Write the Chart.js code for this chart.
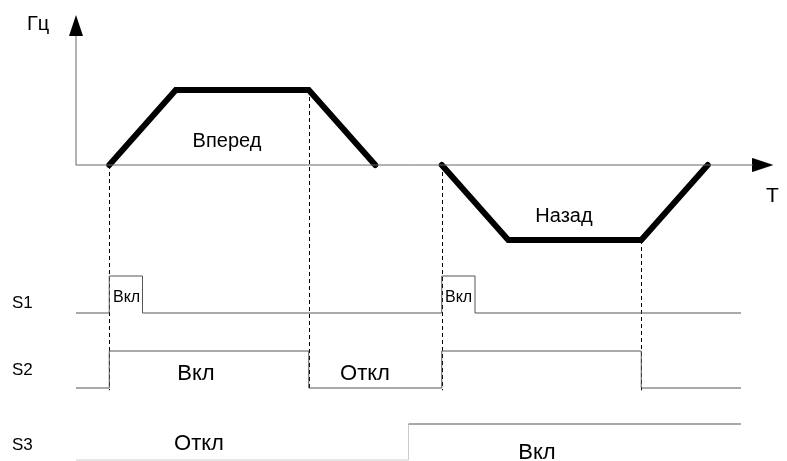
<!DOCTYPE html>
<html lang="ru">
<head>
<meta charset="UTF-8">
<title>Вперед / Назад</title>
<style>body{margin:0;background:#fff}</style>
</head>
<body>
<canvas id="myChart" width="787" height="461"></canvas>
<script src="https://cdn.jsdelivr.net/npm/chart.js"></script>
<script>
// время в тактах, частота в Гц
var fwdT = [1, 3, 7, 9];
var fwdHz = [0, 50, 50, 0];
var revT = [11, 13, 17, 19];
var revHz = [0, -50, -50, 0];

// входы: момент переключения и новое состояние
var s1T = [0, 1, 2, 11, 12, 20];
var s1 = [0, 1, 0, 1, 0, 0];
var s2T = [0, 1, 7, 11, 17, 20];
var s2 = [0, 1, 0, 1, 0, 0];
var s3T = [0, 10, 20];
var s3 = [0, 1, 1];

// пунктир в моментах переключения
var markT = [1, 7, 11, 17];
var markHz = [0, 50, 0, -50];

// оси
var axisT = [0, 20.36];
var axisHz = [0, 86];
var arrowTipHz = 93;
var arrowTipT = 20.66;

var W = 787, H = 461;
var pxT = 33.25, x0 = 76;

function pts(xs, ys) {
    return xs.map(function (x, i) { return { x: x, y: ys[i] } })
}
function rowScale(basePx, pxPerUnit) {
    return { display: false, min: -(H - basePx) / pxPerUnit, max: basePx / pxPerUnit }
}

// наконечник стрелки
var arrow = document.createElement('canvas');
arrow.width = 14; arrow.height = 21;
var a = arrow.getContext('2d');
a.fillStyle = '#000';
a.beginPath(); a.moveTo(7, 0); a.lineTo(14, 21); a.lineTo(0, 21); a.closePath(); a.fill();

var gray = '#555';
function sig(data, axis, extra) {
    return Object.assign({
        data: data, yAxisID: axis, borderColor: gray, borderWidth: 1,
        pointRadius: 0, stepped: 'before', clip: false
    }, extra || {})
}

var textPlugin = {
    id: 'texts',
    beforeDraw: function (chart) {
        var c = chart.ctx;
        c.save(); c.fillStyle = '#fff'; c.fillRect(0, 0, W, H); c.restore();
    },
    beforeDatasetsDraw: function (chart) {
        var c = chart.ctx, sx = chart.scales.x, sf = chart.scales.yF, s2s = chart.scales.yS2;
        c.save();
        c.strokeStyle = '#000'; c.lineWidth = 1; c.setLineDash([4, 3]);
        markT.forEach(function (t, i) {
            var x = Math.round(sx.getPixelForValue(t)) + 0.5;
            c.beginPath();
            c.moveTo(x, sf.getPixelForValue(markHz[i]));
            c.lineTo(x, s2s.getPixelForValue(-0.06));
            c.stroke();
        });
        c.restore();
    },
    afterDraw: function (chart) {
        var c = chart.ctx;
        var f = '"Liberation Sans", Arial, sans-serif';
        var texts = [
            ['Гц', 27, 30, 20, 'left'],
            ['T', 766, 202, 21, 'left'],
            ['Вперед', 227, 147, 20, 'center'],
            ['Назад', 564, 222, 20, 'center'],
            ['S1', 12, 308, 17, 'left'],
            ['S2', 12, 375, 17, 'left'],
            ['S3', 12, 450, 17, 'left'],
            ['Вкл', 113, 302, 16, 'left'],
            ['Вкл', 445, 302, 16, 'left'],
            ['Вкл', 196, 380, 22, 'center'],
            ['Откл', 365, 380, 22, 'center'],
            ['Откл', 199, 450, 22, 'center'],
            ['Вкл', 537, 459, 22, 'center']
        ];
        c.save();
        c.fillStyle = '#000';
        texts.forEach(function (t) {
            c.font = t[3] + 'px ' + f;
            c.textAlign = t[4];
            c.fillText(t[0], t[1], t[2]);
        });
        c.restore();
    }
};

var ctx = document.getElementById('myChart');
new Chart(ctx, {
    type: 'line',
    data: {
        datasets: [
            { data: [{ x: axisT[0], y: 0 }, { x: axisT[1], y: 0 }], yAxisID: 'yF', borderColor: '#666', borderWidth: 1, pointRadius: 0 },
            { data: [{ x: 0, y: axisHz[0] }, { x: 0, y: axisHz[1] }], yAxisID: 'yF', borderColor: '#666', borderWidth: 1, pointRadius: 0 },
            { data: [{ x: 0, y: arrowTipHz }], yAxisID: 'yF', pointStyle: arrow, pointRadius: 10, showLine: false },
            { data: [{ x: arrowTipT, y: 0 }], yAxisID: 'yF', pointStyle: arrow, rotation: 90, pointRadius: 10, showLine: false },
            { data: pts(fwdT, fwdHz), yAxisID: 'yF', borderColor: '#000', borderWidth: 6, pointRadius: 0, borderCapStyle: 'round', borderJoinStyle: 'miter' },
            { data: pts(revT, revHz), yAxisID: 'yF', borderColor: '#000', borderWidth: 6, pointRadius: 0, borderCapStyle: 'round', borderJoinStyle: 'miter' },
            sig(pts(s1T, s1), 'yS1'),
            sig(pts(s2T, s2), 'yS2'),
            sig(pts(s3T, s3), 'yS3', {
                segment: { borderColor: function (c) { return c.p0DataIndex === 0 ? '#ccc' : gray } }
            })
        ]
    },
    options: {
        responsive: false,
        animation: false,
        parsing: false,
        layout: { padding: 0, autoPadding: false },
        plugins: { legend: { display: false }, tooltip: { enabled: false } },
        scales: {
            x: { type: 'linear', display: false, min: -x0 / pxT, max: (W - x0) / pxT },
            yF: rowScale(165, 1.5),
            yS1: rowScale(313, 37),
            yS2: rowScale(388, 37),
            yS3: rowScale(460, 36)
        }
    },
    plugins: [textPlugin]
});
</script>
</body>
</html>
